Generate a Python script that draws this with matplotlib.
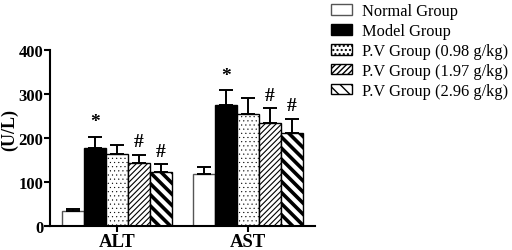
import numpy as np
import matplotlib
matplotlib.use("Agg")
import matplotlib.pyplot as plt
from matplotlib.patches import Patch

plt.rcParams['font.family'] = ['Liberation Serif', 'DejaVu Serif']

categories = ['ALT', 'AST']
groups = ['Normal Group', 'Model Group', 'P.V Group (0.98 g/kg)',
          'P.V Group (1.97 g/kg)', 'P.V Group (2.96 g/kg)']
means = {
    'ALT': [34, 178, 164, 144, 123],
    'AST': [119, 275, 255, 234, 212],
}
errs = {
    'ALT': [4, 25, 20, 18, 17],
    'AST': [16, 34, 36, 33, 31],
}
marks = {
    'ALT': ['', '*', '', '#', '#'],
    'AST': ['', '*', '', '#', '#'],
}

faces = ['white', 'black', 'white', 'white', 'white']
hatches = [None, None, '....', '//////', '\\\\\\']
hatch_lw = [1.0, 1.0, 0.3, 0.8, 2.6]
edges = ['#555555', 'black', 'black', 'black', 'black']

fig = plt.figure(figsize=(5.12, 2.51), dpi=100)
ax = fig.add_axes([0.098, 0.096, 0.517, 0.701])

n = len(groups)
for ci, cat in enumerate(categories):
    xs = np.arange(n) + ci * (n + 1)
    for gi in range(n):
        b = ax.bar(xs[gi], means[cat][gi], width=1.0, color=faces[gi],
                   edgecolor=edges[gi], linewidth=1.0, hatch=hatches[gi], zorder=2)
        for p in b:
            try:
                p.set_hatch_linewidth(hatch_lw[gi])
            except AttributeError:
                pass
        ax.errorbar(xs[gi], means[cat][gi], yerr=[[0], [errs[cat][gi]]],
                    fmt='none', ecolor='black', elinewidth=1.4, capsize=5,
                    capthick=1.4, zorder=3)
        if marks[cat][gi]:
            off = 34 if marks[cat][gi] == '*' else 30
            ax.text(xs[gi], means[cat][gi] + errs[cat][gi] + off, marks[cat][gi],
                    ha='center', va='center', fontsize=14, fontweight='bold')

ax.set_xlim(-1.05, 2 * n + 1.05)
ax.set_ylim(0, 400)
ax.set_yticks([0, 100, 200, 300, 400])
ax.set_xticks([(n - 1) / 2, (n - 1) / 2 + n + 1])
ax.set_xticklabels(categories, fontsize=13.5, fontweight='bold')
for lab in ax.get_yticklabels():
    lab.set_fontweight('bold')
    lab.set_fontsize(12)
ax.set_ylabel('(U/L)', fontsize=13, fontweight='bold')
ax.yaxis.set_label_coords(-0.122, 0.55)
ax.spines['top'].set_visible(False)
ax.spines['right'].set_visible(False)
ax.spines['left'].set_linewidth(1.5)
ax.spines['bottom'].set_linewidth(1.5)
ax.tick_params(axis='both', width=1.5, length=4, pad=1)

handles = []
for gi in range(n):
    h = Patch(facecolor=faces[gi], edgecolor=edges[gi], hatch=hatches[gi],
              linewidth=1.0, label=groups[gi])
    try:
        h.set_hatch_linewidth(hatch_lw[gi])
    except AttributeError:
        pass
    handles.append(h)
fig.legend(handles=handles, loc='upper left', bbox_to_anchor=(0.623, 1.032),
           frameon=False, fontsize=11.8, handlelength=1.25, handleheight=0.6,
           labelspacing=0.24, handletextpad=0.6, borderpad=0.25)

fig.savefig('out.png', dpi=100)
